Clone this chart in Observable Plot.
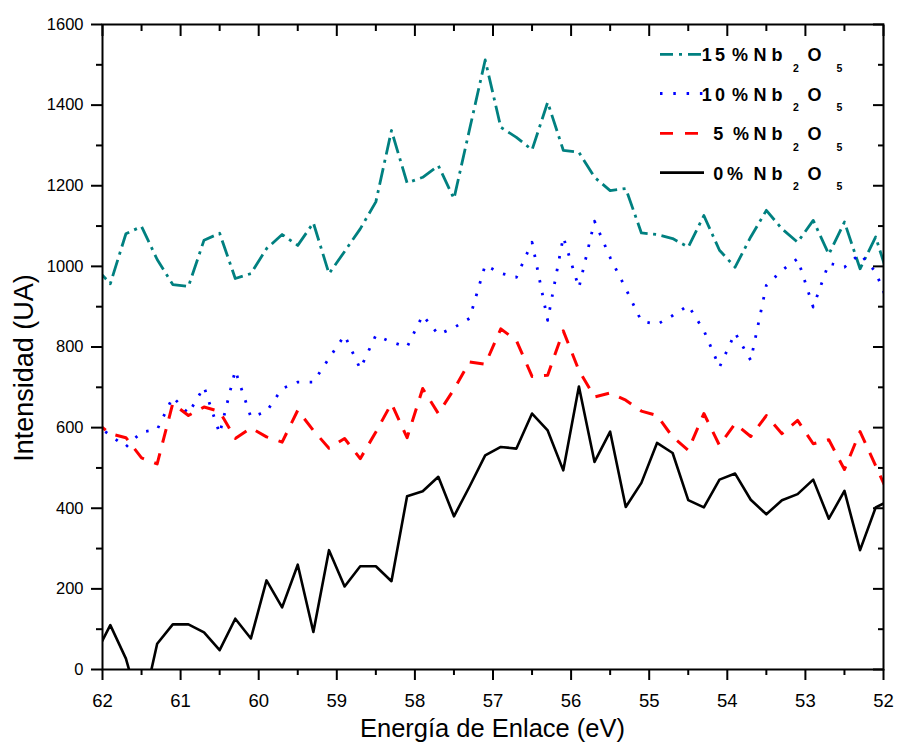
<!DOCTYPE html>
<html><head><meta charset="utf-8">
<script src="https://cdn.jsdelivr.net/npm/d3@7"></script>
<script src="https://cdn.jsdelivr.net/npm/@observablehq/plot@0.6"></script>
<style>body{margin:0;background:#fff;} svg{display:block}</style>
</head><body><div id="chart"></div>
<script>
// Binding energy (eV), every 0.2 eV (curves run slightly past the 62–52 window and are clipped)
const energy = [62.1,61.9,61.7,61.5,61.3,61.1,60.9,60.7,60.5,60.3,60.1,
  59.9,59.7,59.5,59.3,59.1,58.9,58.7,58.5,58.3,58.1,
  57.9,57.7,57.5,57.3,57.1,56.9,56.7,56.5,56.3,56.1,
  55.9,55.7,55.5,55.3,55.1,54.9,54.7,54.5,54.3,54.1,
  53.9,53.7,53.5,53.3,53.1,52.9,52.7,52.5,52.3,52.1,
  51.9];
const nb0 = [34,110,27,-110,64,112,112,92,48,126,77,
  221,154,260,93,296,206,256,256,219,430,
  442,478,380,454,531,552,548,635,593,494,
  702,515,590,403,463,562,537,420,402,471,
  486,421,385,420,435,471,374,443,296,402,
  422];
const nb5 = [615,585,575,525,510,660,630,651,640,573,599,
  577,564,643,593,549,573,523,589,660,575,
  697,635,695,763,757,845,816,727,730,840,
  742,676,686,668,641,630,577,544,635,556,
  610,578,630,585,618,560,570,496,590,505,
  420];
const nb10 = [609,581,552,589,595,676,635,701,585,742,626,
  640,697,713,713,772,829,746,829,812,800,
  879,831,848,871,1003,983,973,1060,866,1073,
  947,1112,1022,945,864,856,878,903,841,750,
  835,767,953,990,1019,899,1008,998,1031,986,
  890];
const nb15 = [999,957,1081,1099,1017,955,950,1065,1082,970,982,
  1044,1079,1052,1108,982,1037,1093,1160,1337,1207,
  1221,1250,1168,1340,1512,1345,1320,1289,1407,1288,
  1283,1221,1188,1193,1083,1079,1069,1048,1126,1040,
  998,1073,1139,1093,1060,1114,1030,1110,994,1073,
  950];
const seriesPct = ["15", "10", "5", "0"];
const xTicks = [62,61,60,59,58,57,56,55,54,53,52];
const xMinor = [61.5,60.5,59.5,58.5,57.5,56.5,55.5,54.5,53.5,52.5];
const yTicks = [0,200,400,600,800,1000,1200,1400,1600];
const yMinor = [100,300,500,700,900,1100,1300,1500];
const xTitle = "Energía de Enlace (eV)";
const yTitle = "Intensidad (UA)";

const font = "'Liberation Sans', Arial, Helvetica, sans-serif";
const rows = vals => energy.map((e, i) => ({e, v: vals[i]}));

const styles = [
  {vals: nb15, stroke: "#008080", width: 2.8, dash: "17,5.5,3,5.5", cap: "butt", legendDash: "13,6,3,6"},
  {vals: nb10, stroke: "#0000ff", width: 2.8, dash: "2.5,10.5", cap: "butt", legendDash: "2.5,10.8"},
  {vals: nb5,  stroke: "#ff0000", width: 3,   dash: "14,11", cap: "butt", legendDash: "13,12"},
  {vals: nb0,  stroke: "#000000", width: 2.6, dash: null, cap: "round", legendDash: null}
];

const lineMarks = styles.map(s => Plot.line(rows(s.vals), {
  x: "e", y: "v", stroke: s.stroke, strokeWidth: s.width,
  strokeDasharray: s.dash, strokeLinecap: s.cap, strokeLinejoin: "round", clip: true
}));

const chart = Plot.plot({
  width: 897, height: 742,
  marginLeft: 102, marginRight: 14, marginTop: 24, marginBottom: 73,
  style: {fontFamily: font, fontSize: "18px", color: "#000", background: "#fff", overflow: "visible"},
  x: {domain: [62, 52], label: null},
  y: {domain: [0, 1600], label: null},
  marks: [
    ...lineMarks,
    Plot.axisX({ticks: xTicks, tickSize: 11, tickPadding: 13, tickFormat: d => String(d), strokeWidth: 2, label: null}),
    Plot.axisX({ticks: xMinor, tickSize: 6, tickFormat: () => "", strokeWidth: 2, label: null}),
    Plot.axisX({anchor: "top", ticks: xTicks, tickSize: -11, tickFormat: () => "", strokeWidth: 2, label: null}),
    Plot.axisX({anchor: "top", ticks: xMinor, tickSize: -6, tickFormat: () => "", strokeWidth: 2, label: null}),
    Plot.axisY({ticks: yTicks, tickSize: 11, tickPadding: 8, tickFormat: d => String(d), strokeWidth: 2, label: null}),
    Plot.axisY({ticks: yMinor, tickSize: 6, tickFormat: () => "", strokeWidth: 2, label: null}),
    Plot.axisY({anchor: "right", ticks: yTicks, tickSize: -11, tickFormat: () => "", strokeWidth: 2, label: null}),
    Plot.axisY({anchor: "right", ticks: yMinor, tickSize: -6, tickFormat: () => "", strokeWidth: 2, label: null}),
    Plot.frame({stroke: "#000", strokeWidth: 2})
  ]
});
document.getElementById("chart").appendChild(chart);

const svg = d3.select(chart);
svg.selectAll('g[aria-label="x-axis tick label"]').attr("font-size", 18.5);
svg.selectAll('g[aria-label="y-axis tick label"]').attr("font-size", 16.5);

// axis titles
svg.append("text").attr("x", 492.5).attr("y", 736.5).attr("text-anchor", "middle")
  .attr("font-family", font).attr("font-size", 25.5).attr("fill", "#000").text(xTitle);
svg.append("text").attr("transform", "translate(33,368) rotate(-90)").attr("text-anchor", "middle")
  .attr("font-family", font).attr("font-size", 27).attr("fill", "#000").text(yTitle);

// legend
const rowY = [54.3, 93.5, 133.3, 172.7];
const numX = [715, 715, 720, 720];
const pctX = [740, 740, 741, 735];
const lg = svg.append("g").attr("font-family", font).attr("font-weight", "bold").attr("fill", "#000");
styles.forEach((s, i) => {
  const y = rowY[i];
  lg.append("line").attr("x1", 660).attr("x2", 704).attr("y1", y).attr("y2", y)
    .attr("stroke", s.stroke).attr("stroke-width", 2.8)
    .attr("stroke-dasharray", s.legendDash).attr("stroke-linecap", "butt");
  lg.append("text").attr("x", numX[i]).attr("y", y + 7).attr("font-size", 18)
    .attr("letter-spacing", 3.3).text(seriesPct[i]);
  lg.append("text").attr("x", pctX[i]).attr("y", y + 7).attr("font-size", 18).text("%");
  const t = lg.append("text").attr("y", y + 7).attr("font-size", 18);
  t.append("tspan").attr("x", 760).text("N");
  t.append("tspan").attr("x", 777).text("b");
  t.append("tspan").attr("x", 796).attr("y", y + 17.5).attr("font-size", 10.5).text("2");
  t.append("tspan").attr("x", 814.5).attr("y", y + 7).text("O");
  t.append("tspan").attr("x", 839.5).attr("y", y + 17.5).attr("font-size", 10.5).text("5");
});
</script>
</body></html>
